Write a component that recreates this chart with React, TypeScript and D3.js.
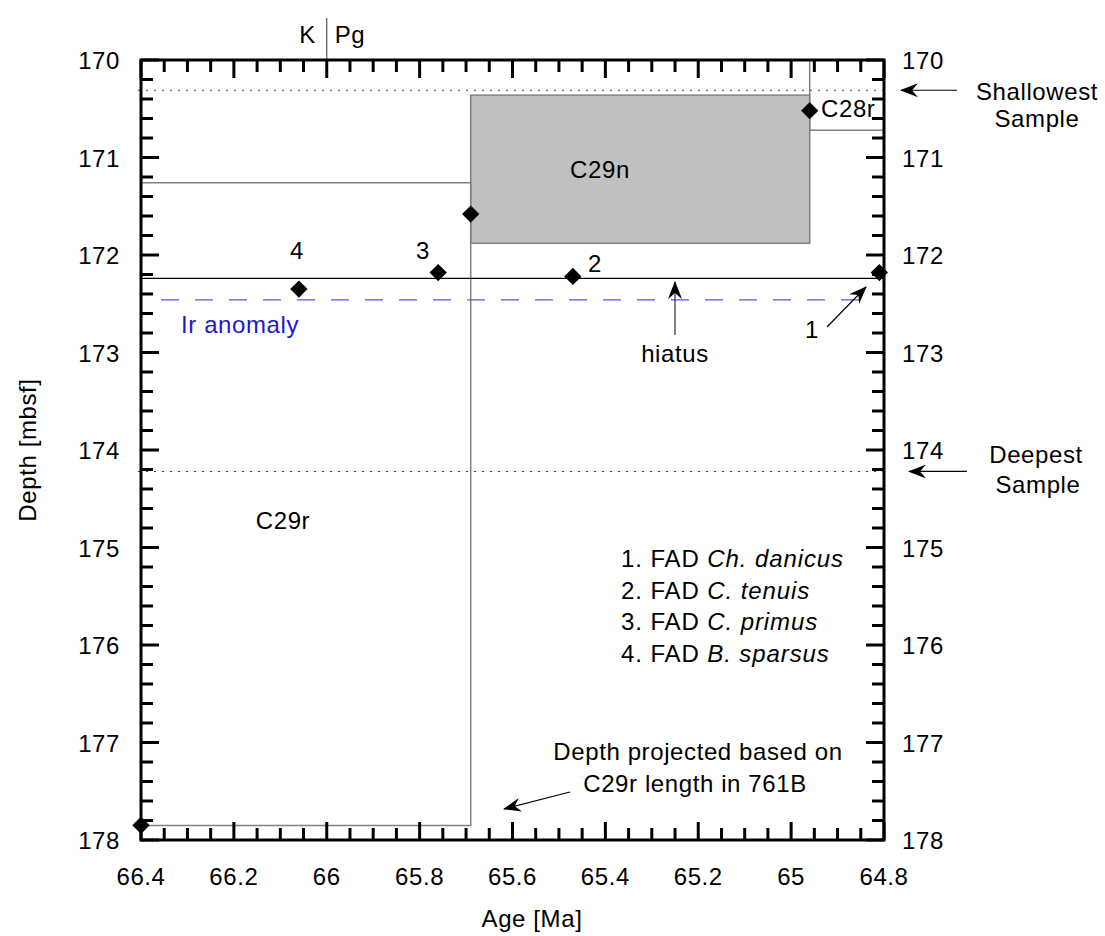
import React from "react";
import * as d3 from "d3";

// ---- data ----
const ageTicks = [66.4, 66.2, 66, 65.8, 65.6, 65.4, 65.2, 65, 64.8];
const depthTicks = [170, 171, 172, 173, 174, 175, 176, 177, 178];

// FAD datums (numbered)
const fadLabels = ["1", "2", "3", "4"];
const fadAge = [64.81, 65.47, 65.76, 66.06];
const fadDepth = [172.18, 172.22, 172.18, 172.35];

// magnetochron boundary tie points
const tieAge = [64.96, 65.69, 66.4];
const tieDepth = [170.52, 171.58, 177.85];

// chron boxes
const c29nAge = [65.69, 64.96];
const c29nDepth = [170.36, 171.88];
const c29rAge = [66.4, 65.69];
const c29rDepth = [171.26, 177.85];
const c28rAge = [64.96, 64.8];
const c28rDepth = [170, 170.72];

const hiatusDepth = 172.24;
const irDepth = 172.46;
const shallowestDepth = 170.31;
const deepestDepth = 174.22;
const kpgAge = 66.0;

const legendItems = [
  ["1. FAD ", "Ch. danicus"],
  ["2. FAD ", "C. tenuis"],
  ["3. FAD ", "C. primus"],
  ["4. FAD ", "B. sparsus"],
];

const FONT = "'Liberation Sans', Arial, Helvetica, sans-serif";

export default function App() {
  const W = 1105, H = 936;
  const x = d3.scaleLinear().domain([66.4, 64.8]).range([141, 884]);
  const y = d3.scaleLinear().domain([170, 178]).range([60, 840]);
  const [x0, x1] = x.range();
  const [y0, y1] = y.range();

  const minorAge = d3.range(0, 33).map((i) => 66.4 - i * 0.05);
  const minorDepth = d3.range(0, 41).map((i) => 170 + i * 0.2);
  const isMajorAge = (a: number) => Math.abs(Math.round(a * 5) - a * 5) < 1e-6;
  const isMajorDepth = (d: number) => Math.abs(Math.round(d) - d) < 1e-6;

  const diamond = d3.symbol().type(d3.symbolSquare).size(150)() as string;
  const gray = "#808080";
  const fs = 24;
  const ls = 0.6;

  const pts = [
    ...fadAge.map((a, i) => [a, fadDepth[i]]),
    ...tieAge.map((a, i) => [a, tieDepth[i]]),
  ];

  const T = (props: any) => <text fontSize={fs} letterSpacing={ls} {...props} />;

  return (
    <svg
      width={W}
      height={H}
      style={{ position: "absolute", left: 0, top: 0, background: "#fff" }}
      fontFamily={FONT}
    >
      <defs>
        <marker id="ah" viewBox="0 0 18 14" refX="17" refY="7" markerWidth="18" markerHeight="14" markerUnits="userSpaceOnUse" orient="auto">
          <path d="M0,0 L18,7 L0,14 L6,7 Z" fill="#000" />
        </marker>
      </defs>

      {/* chron boxes */}
      <rect
        x={x(c29nAge[0])}
        y={y(c29nDepth[0])}
        width={x(c29nAge[1]) - x(c29nAge[0])}
        height={y(c29nDepth[1]) - y(c29nDepth[0])}
        fill="#c0c0c0"
        stroke={gray}
        strokeWidth={1.5}
      />
      <polyline
        points={[
          [x(c29rAge[0]), y(c29rDepth[0])],
          [x(c29rAge[1]), y(c29rDepth[0])],
          [x(c29rAge[1]), y(c29rDepth[1])],
          [x(c29rAge[0]), y(c29rDepth[1])],
        ].map((p) => p.join(",")).join(" ")}
        fill="none"
        stroke={gray}
        strokeWidth={1.5}
      />
      <polyline
        points={[
          [x(c28rAge[0]), y(c28rDepth[0])],
          [x(c28rAge[0]), y(c28rDepth[1])],
          [x(c28rAge[1]), y(c28rDepth[1])],
        ].map((p) => p.join(",")).join(" ")}
        fill="none"
        stroke={gray}
        strokeWidth={1.5}
      />

      {/* sample range dotted lines */}
      <line x1={x0 - 3} x2={x1} y1={y(shallowestDepth)} y2={y(shallowestDepth)} stroke="#333" strokeWidth={1} strokeDasharray="2,6" />
      <line x1={x0 - 3} x2={x1} y1={y(deepestDepth)} y2={y(deepestDepth)} stroke="#333" strokeWidth={1} strokeDasharray="2,6" />

      {/* hiatus line */}
      <line x1={x0} x2={x1} y1={y(hiatusDepth)} y2={y(hiatusDepth)} stroke="#000" strokeWidth={1.3} />
      {/* Ir anomaly */}
      <line x1={x0 + 20} x2={x1 - 10} y1={y(irDepth)} y2={y(irDepth)} stroke="#5555ee" strokeWidth={1.3} strokeDasharray="18,16" />
      <T x={181} y={333} fill="#1a1acc">Ir anomaly</T>

      {/* K/Pg */}
      <line x1={x(kpgAge)} x2={x(kpgAge)} y1={18} y2={y0} stroke="#555" strokeWidth={1.2} />
      <T x={x(kpgAge) - 11} y={43} textAnchor="end">K</T>
      <T x={x(kpgAge) + 8} y={43}>Pg</T>

      {/* frame */}
      <rect x={x0} y={y0} width={x1 - x0} height={y1 - y0} fill="none" stroke="#000" strokeWidth={3} />

      {/* x ticks top/bottom */}
      {minorAge.map((a, i) => {
        const L = isMajorAge(a) ? 18 : 12;
        return (
          <g key={"xa" + i}>
            <line x1={x(a)} x2={x(a)} y1={y0} y2={y0 + L} stroke="#000" strokeWidth={3} />
            <line x1={x(a)} x2={x(a)} y1={y1} y2={y1 - L} stroke="#000" strokeWidth={3} />
          </g>
        );
      })}
      {minorDepth.map((d, i) => {
        const L = isMajorDepth(d) ? 18 : 12;
        return (
          <g key={"ya" + i}>
            <line x1={x0} x2={x0 + L} y1={y(d)} y2={y(d)} stroke="#000" strokeWidth={3} />
            <line x1={x1} x2={x1 - L} y1={y(d)} y2={y(d)} stroke="#000" strokeWidth={3} />
          </g>
        );
      })}

      {/* tick labels */}
      {ageTicks.map((a) => (
        <T key={"xl" + a} x={x(a)} y={885} textAnchor="middle">{String(a)}</T>
      ))}
      {depthTicks.map((d) => (
        <g key={"yl" + d}>
          <T x={120} y={y(d) + 9} textAnchor="end">{String(d)}</T>
          <T x={902} y={y(d) + 9}>{String(d)}</T>
        </g>
      ))}

      {/* axis titles */}
      <T x={532} y={927} textAnchor="middle">Age [Ma]</T>
      <T transform={`translate(36,450) rotate(-90)`} textAnchor="middle">Depth [mbsf]</T>

      {/* points */}
      {pts.map((p, i) => (
        <path key={"p" + i} d={diamond} transform={`translate(${x(p[0])},${y(p[1])}) rotate(45)`} fill="#000" />
      ))}

      {/* FAD number labels */}
      <T x={812} y={338} textAnchor="middle">{fadLabels[0]}</T>
      <T x={595} y={272} textAnchor="middle">{fadLabels[1]}</T>
      <T x={423} y={259} textAnchor="middle">{fadLabels[2]}</T>
      <T x={297} y={259} textAnchor="middle">{fadLabels[3]}</T>

      {/* chron labels */}
      <T x={600} y={178} textAnchor="middle">C29n</T>
      <T x={283} y={529} textAnchor="middle">C29r</T>
      <T x={821} y={117}>C28r</T>

      {/* arrows */}
      <line x1={827} y1={327} x2={866} y2={287} stroke="#000" strokeWidth={1.2} markerEnd="url(#ah)" />
      <line x1={675} y1={335} x2={675} y2={282} stroke="#333" strokeWidth={1.2} markerEnd="url(#ah)" />
      <T x={675} y={362} textAnchor="middle">hiatus</T>

      <line x1={570} y1={792} x2={504} y2={809} stroke="#000" strokeWidth={1.2} markerEnd="url(#ah)" />
      <T x={698} y={760} textAnchor="middle">Depth projected based on</T>
      <T x={695} y={792} textAnchor="middle">C29r length in 761B</T>

      <line x1={957} y1={y(shallowestDepth)} x2={901} y2={y(shallowestDepth)} stroke="#000" strokeWidth={1.2} markerEnd="url(#ah)" />
      <T x={1037} y={100} textAnchor="middle">Shallowest</T>
      <T x={1037} y={127} textAnchor="middle">Sample</T>

      <line x1={967} y1={y(deepestDepth)} x2={909} y2={y(deepestDepth)} stroke="#000" strokeWidth={1.2} markerEnd="url(#ah)" />
      <T x={1036} y={463} textAnchor="middle">Deepest</T>
      <T x={1038} y={493} textAnchor="middle">Sample</T>

      {/* legend */}
      {legendItems.map((it, i) => (
        <text key={"lg" + i} x={621} y={567 + i * 31.7} fontSize={fs} letterSpacing={0.9}>
          {it[0]}
          <tspan fontStyle="italic">{it[1]}</tspan>
        </text>
      ))}
    </svg>
  );
}
